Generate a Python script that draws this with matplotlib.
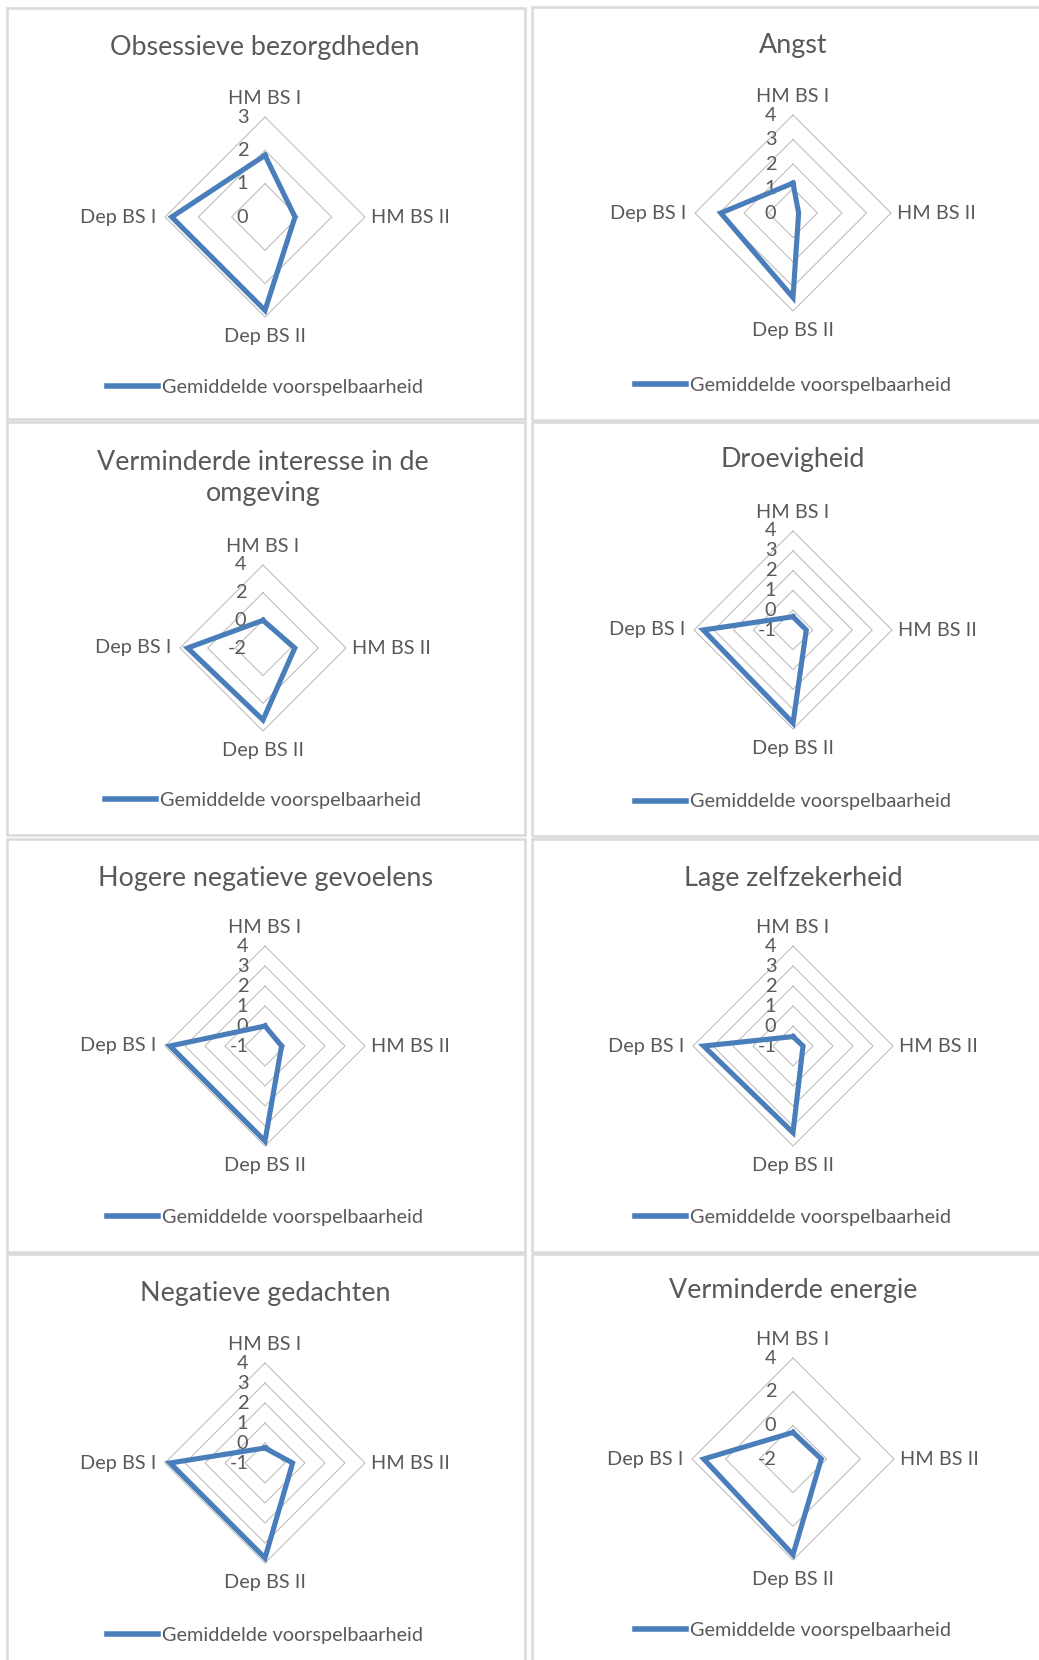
import numpy as np
import matplotlib.pyplot as plt
from matplotlib.patches import Rectangle
from matplotlib.lines import Line2D

plt.rcParams['font.family'] = ['Lato', 'DejaVu Sans']

W, H = 1039, 1660
TXT = '#595959'
BLUE = '#4a7ebb'

categories = ['HM BS I', 'HM BS II', 'Dep BS II', 'Dep BS I']
titles = ['Obsessieve bezorgdheden', 'Angst',
          'Verminderde interesse in de\nomgeving', 'Droevigheid',
          'Hogere negatieve gevoelens', 'Lage zelfzekerheid',
          'Negatieve gedachten', 'Verminderde energie']

# values per chart, order: HM BS I, HM BS II, Dep BS II, Dep BS I
obsessieve = [1.85, 0.9, 2.8, 2.8]
angst = [1.22, 0.23, 3.45, 2.95]
interesse = [0.0, 0.3, 3.2, 3.45]
droevigheid = [-0.33, -0.33, 3.7, 3.53]
hogere_neg = [0.0, -0.17, 3.75, 3.75]
lage_zelf = [-0.53, -0.5, 3.33, 3.47]
neg_gedachten = [-0.25, 0.38, 3.75, 3.75]
energie = [-0.42, -0.32, 3.68, 3.3]
series = [obsessieve, angst, interesse, droevigheid,
          hogere_neg, lage_zelf, neg_gedachten, energie]

axis_min = [0, 0, -2, -1, -1, -1, -1, -2]
axis_max = [3, 4, 4, 4, 4, 4, 4, 4]
axis_step = [1, 1, 2, 1, 1, 1, 1, 2]

legend_label = 'Gemiddelde voorspelbaarheid'

# layout in pixels: box (x0, y0, x1, y1), radar centre, radius, title y, legend y
boxes = [(7, 8, 525, 419), (532, 7, 1045, 420),
         (7, 422, 525, 835), (532, 422, 1045, 836),
         (7, 839, 525, 1252), (532, 839, 1045, 1252),
         (7, 1254, 525, 1670), (532, 1254, 1045, 1670)]
centres = [(265, 217), (793, 213), (263, 648), (793, 630),
           (265, 1046), (793, 1046), (265, 1463), (793, 1459)]
radii = [100, 98, 83, 99, 100, 100, 100, 101]
title_y = [47, 45, 478, 460, 878, 878, 1293, 1290]
legend_y = [387, 385, 800, 802, 1217, 1217, 1635, 1630]

fig = plt.figure(figsize=(W / 100, H / 100), dpi=100)
fig.patch.set_facecolor('white')

FS = 14.3


def fx(x):
    return x / W


def fy(y):
    return 1 - y / H


angles = np.linspace(0, 2 * np.pi, len(categories), endpoint=False)
closed = np.append(angles, angles[0])

for i in range(8):
    x0, y0, x1, y1 = boxes[i]
    fig.add_artist(Rectangle((fx(x0), fy(y1)), (x1 - x0) / W, (y1 - y0) / H,
                             transform=fig.transFigure, fill=False,
                             ec='#d9d9d9', lw=1.8))
    cx, cy = centres[i]
    R = radii[i]
    ax = fig.add_axes([fx(cx - R), fy(cy + R), 2 * R / W, 2 * R / H],
                      projection='polar')
    ax.set_theta_zero_location('N')
    ax.set_theta_direction(-1)
    ax.patch.set_visible(False)
    ax.spines['polar'].set_visible(False)
    ax.grid(False)
    ax.set_xticks([])
    ax.set_yticks([])

    ticks = np.arange(axis_min[i], axis_max[i] + 0.001, axis_step[i])
    for t in ticks[1:]:
        ax.plot(closed, [t] * len(closed), color='#bfbfbf', lw=0.8,
                clip_on=False, zorder=1)
    for t in ticks:
        ax.annotate(f'{int(t)}', xy=(0, t), xytext=(-12, 0),
                    textcoords='offset points', ha='right', va='center',
                    fontsize=FS, color=TXT, annotation_clip=False)

    vals = series[i]
    ax.plot(closed, vals + vals[:1], color=BLUE, lw=3.7, clip_on=False,
            solid_joinstyle='miter', zorder=3)
    ax.set_ylim(axis_min[i], axis_max[i])

    rmax = axis_max[i]
    offs = [((0, 7), 'center', 'bottom'), ((4, 0), 'left', 'center'),
            ((0, -8), 'center', 'top'), ((-6, 0), 'right', 'center')]
    for a, lab, (off, ha, va) in zip(angles, categories, offs):
        ax.annotate(lab, xy=(a, rmax), xytext=off, textcoords='offset points',
                    ha=ha, va=va, fontsize=FS, color=TXT,
                    annotation_clip=False)

    fig.text(fx(cx), fy(title_y[i]), titles[i], ha='center', va='center',
             fontsize=19.4, color=TXT, linespacing=1.25)

    handle = Line2D([], [], color=BLUE, lw=4)
    fig.legend([handle], [legend_label], loc='center',
               bbox_to_anchor=(fx(cx), fy(legend_y[i])), frameon=False,
               fontsize=FS, labelcolor=TXT, handlelength=2.6,
               handletextpad=0.2, borderpad=0)

fig.savefig('out.png', dpi=100, facecolor='white')
